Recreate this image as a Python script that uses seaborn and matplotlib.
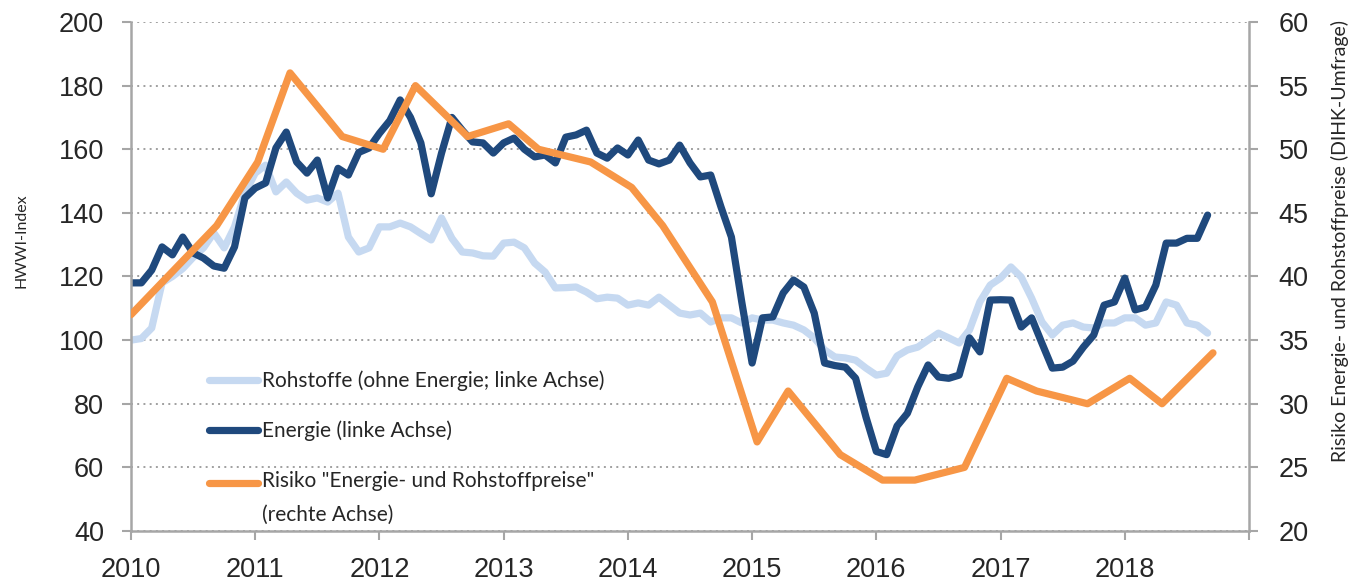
import numpy as np
import pandas as pd
import matplotlib
matplotlib.use("Agg")
import matplotlib.pyplot as plt
import seaborn as sns
from matplotlib import font_manager
from matplotlib.lines import Line2D
from matplotlib.legend_handler import HandlerLine2D

# ---------------- data ----------------
rohstoffe = [100, 100.5, 103.8, 118, 120, 122.5, 126, 129, 133.7, 129, 135.6, 146.2,
             152.5, 155, 146.6, 149.7, 146.2, 144, 144.7, 143.4, 146.2, 132.4, 127.7, 129,
             135.6, 135.6, 136.8, 135.6, 133.5, 131.5, 138.4, 132, 127.7, 127.4, 126.5, 126.4,
             130.5, 130.8, 129, 124.2, 121.4, 116.4, 116.5, 116.7, 115.1, 113, 113.5, 113.2,
             111, 111.7, 111, 113.5, 111, 108.5, 107.9, 108.5, 105.7, 107, 107, 105.4,
             107, 106.3, 106.3, 105.4, 104.7, 103.2, 100.7, 96.9, 94.7, 94.4, 93.7, 91.2,
             89, 89.6, 95, 96.9, 97.8, 100, 102.2, 100.7, 99.1, 103.2, 112, 117.3,
             119.5, 123, 119.8, 113.2, 105.7, 101.6, 104.7, 105.4, 104.1, 103.8, 105.4, 105.4,
             107, 107, 104.7, 105.4, 112, 111, 105.4, 104.7, 102.2]
energie = [118, 118, 122, 129.3, 126.8, 132.4, 127.4, 125.8, 123.3, 122.6, 129.3, 144.7,
           147.8, 149.4, 160.4, 165.4, 156, 152.5, 156.6, 144.7, 154, 151.9, 159, 160.4,
           165, 169, 175.5, 170, 162, 146, 158.8, 170, 166, 162.3, 162, 158.8,
           162, 163.5, 160, 157.6, 158.2, 155.7, 163.8, 164.5, 166, 158.8, 157.2, 160.4,
           158.2, 162.9, 156.6, 155.4, 156.6, 161.3, 155.7, 151.3, 151.9, 141.8, 132.4, 112,
           92.8, 107, 107.3, 114.8, 118.9, 116.7, 108.5, 92.8, 92, 91.5, 88, 75.8,
           65, 64, 73, 77, 85.3, 92.2, 88.4, 88, 89, 100.7, 96.3, 112.6,
           112.7, 112.6, 104.1, 107, 99, 91.2, 91.5, 93.4, 97.8, 101.6, 111, 112,
           119.5, 109.5, 110.4, 117.3, 130.5, 130.5, 132, 132, 139.3]
monate = 2010 + np.arange(len(energie)) / 12.0

risiko_x = [2010.0, 2010.69, 2011.02, 2011.28, 2011.70, 2012.03, 2012.29, 2012.71,
            2013.04, 2013.28, 2013.70, 2014.03, 2014.28, 2014.68, 2015.04, 2015.29,
            2015.71, 2016.05, 2016.31, 2016.71, 2017.05, 2017.29, 2017.70, 2018.04,
            2018.30, 2018.71]
risiko = [37, 44, 49, 56, 51, 50, 55, 51, 52, 50, 49, 47, 44, 38, 27, 31,
          26, 24, 24, 25, 32, 31, 30, 32, 30, 34]

jahre = list(range(2010, 2020))
jahr_labels = [str(j) for j in range(2010, 2019)] + [""]
links_ticks = list(range(40, 201, 20))
rechts_ticks = list(range(20, 61, 5))

lbl_roh = "Rohstoffe (ohne Energie; linke Achse)"
lbl_en = "Energie (linke Achse)"
lbl_ri = 'Risiko "Energie- und Rohstoffpreise"\n(rechte Achse)'
ylabel_l = "HWWI-Index"
ylabel_r = "Risiko Energie- und Rohstoffpreise (DIHK-Umfrage)"

# ---------------- style ----------------
c_light = "#C6D9F1"
c_dark = "#1F497D"
c_orange = "#F79646"
c_axis = "#A6A6A6"

sns.set_theme(style="white")
names = {f.name for f in font_manager.fontManager.ttflist}
narrow = "Liberation Sans Narrow" if "Liberation Sans Narrow" in names else "Lato"
plt.rcParams["font.family"] = ["Liberation Sans", "DejaVu Sans"]

fig = plt.figure(figsize=(13.52, 5.84), dpi=100)
ax = fig.add_axes([131 / 1352, 1 - 531 / 584, 1118 / 1352, 509 / 584])
ax2 = ax.twinx()

df = pd.DataFrame({"Datum": monate, "Rohstoffe": rohstoffe, "Energie": energie})
dfr = pd.DataFrame({"Datum": risiko_x, "Risiko": risiko})

lw = 5.2
sns.lineplot(data=df, x="Datum", y="Rohstoffe", ax=ax, color=c_light, lw=lw,
             solid_joinstyle="round", solid_capstyle="round", legend=False)
sns.lineplot(data=df, x="Datum", y="Energie", ax=ax, color=c_dark, lw=lw,
             solid_joinstyle="round", solid_capstyle="round", legend=False)
sns.lineplot(data=dfr, x="Datum", y="Risiko", ax=ax2, color=c_orange, lw=lw,
             solid_joinstyle="round", solid_capstyle="round", legend=False)

ax.set_xlim(2010, 2019)
ax.set_ylim(40, 200)
ax2.set_ylim(20, 60)
ax.set_xticks(jahre)
ax.set_xticklabels(jahr_labels)
ax.set_yticks(links_ticks)
ax2.set_yticks(rechts_ticks)
ax.set_xlabel("")

ax.yaxis.grid(True, linestyle=(0, (1, 2.2)), color="#A0A0A0", lw=1.4)
ax.xaxis.grid(False)
ax2.grid(False)

for a in (ax, ax2):
    for s in a.spines.values():
        s.set_color(c_axis)
        s.set_linewidth(1.8)
    a.spines["top"].set_visible(False)
ax.spines["right"].set_visible(False)
ax2.spines["left"].set_visible(False)
ax2.spines["bottom"].set_visible(False)

ax.tick_params(axis="x", direction="out", length=6.5, width=1.5, color=c_axis,
               labelsize=19.5, pad=12, bottom=True)
ax.tick_params(axis="y", direction="out", length=6.5, width=1.5, color=c_axis,
               labelsize=19.5, pad=13, left=True)
ax2.tick_params(axis="y", direction="out", length=6.5, width=1.5, color=c_axis,
                labelsize=19.5, pad=15, right=True)

ax.set_ylabel(ylabel_l, fontsize=11.5, family=narrow)
ax.yaxis.set_label_coords(-0.092, 0.57)
ax2.set_ylabel(ylabel_r, fontsize=14, family=narrow, rotation=90)
ax2.yaxis.set_label_coords(1.0735, 0.57)


class ShiftedLine(HandlerLine2D):
    def __init__(self, shift=0.0, **kw):
        super().__init__(**kw)
        self.shift = shift

    def create_artists(self, legend, orig_handle, xdescent, ydescent, width, height,
                       fontsize, trans):
        arts = super().create_artists(legend, orig_handle, xdescent, ydescent, width,
                                      height, fontsize, trans)
        for a in arts:
            a.set_ydata(np.asarray(a.get_ydata(), dtype=float) + self.shift * fontsize)
        return arts


leg_fs = 15
h1 = Line2D([], [], color=c_light, lw=lw, solid_capstyle="round")
h2 = Line2D([], [], color=c_dark, lw=lw, solid_capstyle="round")
h3 = Line2D([], [], color=c_orange, lw=lw, solid_capstyle="round")
leg = ax2.legend([h1, h2, h3], [lbl_roh, lbl_en, lbl_ri], loc="upper left",
                 bbox_to_anchor=(0.070, 0.315), frameon=False, borderpad=0,
                 borderaxespad=0, handlelength=2.35, handletextpad=0.2,
                 labelspacing=1.42, prop={"family": narrow, "size": leg_fs},
                 handler_map={h3: ShiftedLine(shift=0.76)})
leg.get_texts()[2].set_linespacing(1.85)

fig.savefig("out.png", dpi=100)
